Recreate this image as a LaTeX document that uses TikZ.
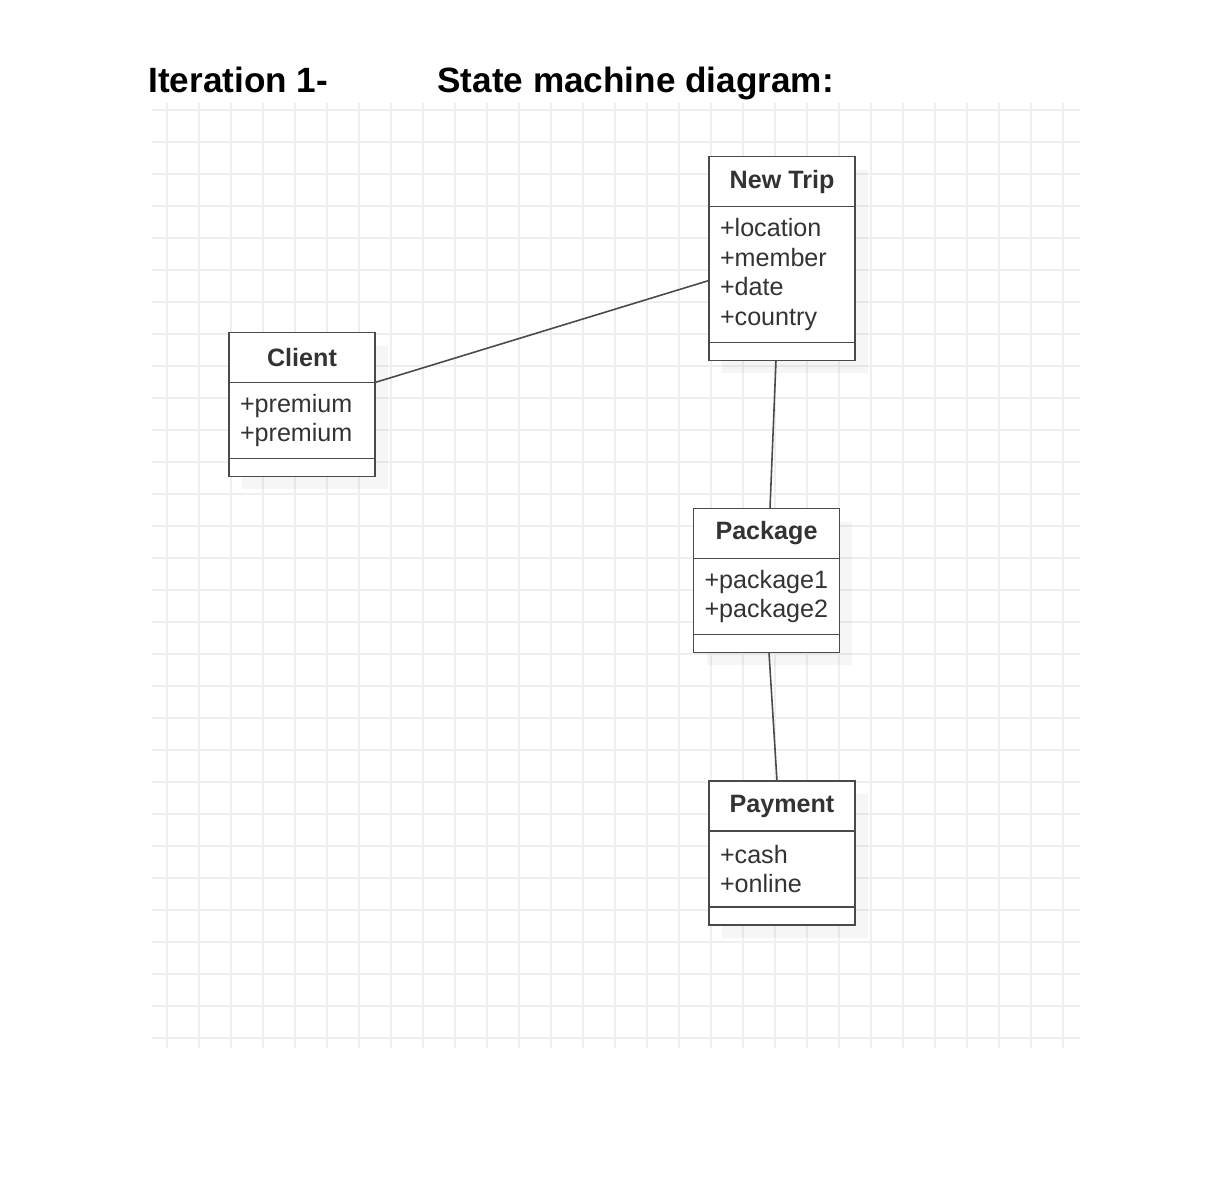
\documentclass[tikz,border=0pt]{standalone}
\usepackage{fontspec}
\setmainfont{Liberation Sans}
\usetikzlibrary{positioning, shadows}

\definecolor{umlline}{HTML}{4A4A4A}
\definecolor{umltext}{HTML}{333333}
\definecolor{gridgray}{HTML}{EFEFEF}

\begin{document}
\begin{tikzpicture}[
        x=0.02cm, y=-0.02cm,
        gridline/.style={draw=gridgray, line width=0.6pt},
        heading/.style={font=\fontsize{20}{24}\selectfont\bfseries, anchor=base west, inner sep=0pt},
        boxshadow/.style={drop shadow={shadow xshift=0.26cm, shadow yshift=-0.26cm, fill=black, opacity=0.035}},
        classhead/.style={rectangle, draw=umlline, line width=1.1pt, fill=white, boxshadow, outer sep=0pt, minimum width=2.92cm, minimum height=1cm, inner sep=0pt, font=\fontsize{14.3}{17}\selectfont\bfseries, text=umltext},
        classattrs/.style={rectangle, draw=umlline, line width=1.1pt, fill=white, boxshadow, outer sep=0pt, text width=2.48cm, inner xsep=0.22cm, inner ysep=0pt, align=left, font=\fontsize{14.3}{17}\selectfont, text=umltext},
        classfoot/.style={rectangle, draw=umlline, line width=1.1pt, fill=white, boxshadow, outer sep=0pt, minimum width=2.92cm, minimum height=0.36cm, inner sep=0pt},
        link/.style={draw=umlline, line width=0.9pt}
    ]
        \fill[white] (0,0) rectangle (1228,1198);
        \useasboundingbox (0,0) rectangle (1228,1198);

        % grid
        \foreach \k in {0,...,28}
            \draw[gridline] (167+32*\k,103) -- (167+32*\k,1048);
        \foreach \k in {0,...,29}
            \draw[gridline] (152,110+32*\k) -- (1080,110+32*\k);

        \node[heading] (iter) at (148,92) {Iteration 1-};
        \node[heading] (title) at (437,92) {State machine diagram:};

        % classes
        \node[classhead] (trip head) at (782,181.5) {New Trip};
        \node[classattrs, minimum height=2.72cm, below=0pt of trip head] (trip attrs) {+location\\+member\\+date\\+country};
        \node[classfoot, below=0pt of trip attrs] (trip foot) {};

        \node[classhead] (client head) at (302,357.5) {Client};
        \node[classattrs, minimum height=1.52cm, below=0pt of client head] (client attrs) {+premium\\+premium};
        \node[classfoot, below=0pt of client attrs] (client foot) {};

        \node[classhead] (pack head) at (766.5,533.5) {Package};
        \node[classattrs, minimum height=1.52cm, below=0pt of pack head] (pack attrs) {+package1\\+package2};
        \node[classfoot, below=0pt of pack attrs] (pack foot) {};

        \node[classhead] (pay head) at (782,806) {Payment};
        \node[classattrs, minimum height=1.52cm, below=0pt of pay head] (pay attrs) {+cash\\+online};
        \node[classfoot, below=0pt of pay attrs] (pay foot) {};

        \draw[link] (client head.south east) -- ([yshift=-0.12cm]trip attrs.west);
        \draw[link] ([xshift=-0.12cm]trip foot.south) -- ([xshift=0.07cm]pack head.north);
        \draw[link] ([xshift=0.05cm]pack foot.south) -- ([xshift=-0.1cm]pay head.north);
    \end{tikzpicture}
\end{document}
